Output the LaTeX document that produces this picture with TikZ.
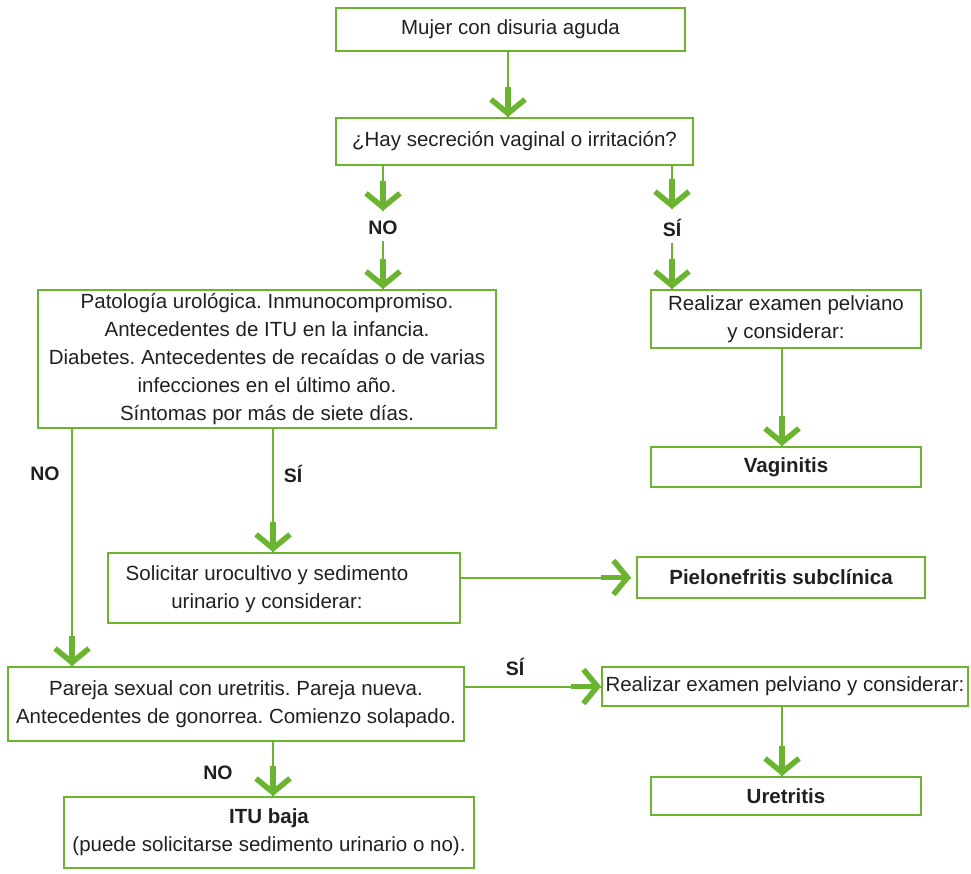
\documentclass[tikz,border=0pt]{standalone}
\usepackage{fontspec}
\setmainfont{Liberation Sans}
\usetikzlibrary{arrows.meta,calc}
\definecolor{gr}{RGB}{106,180,48}
\definecolor{tx}{RGB}{35,31,32}
\newcommand\garr[2]{%
  \draw[ln] #1 -- #2;
  \draw[tipst] ($#2!30pt!#1$) -- #2;}
\begin{document}
\frenchspacing
\begin{tikzpicture}[x=1pt,y=-1pt,
  box/.style={draw=gr,line width=2pt,inner sep=0pt,text=tx,align=center,
    font=\fontsize{20.5}{28}\selectfont},
  txt/.style={inner sep=0pt,text=tx,align=center,font=\fontsize{20.5}{28}\selectfont},
  lab/.style={inner sep=2pt,text=tx,font=\fontsize{19.5}{24}\selectfont\bfseries},
  ln/.style={draw=gr,line width=2pt},
  tipst/.style={draw=gr,line width=5.5pt,-{Straight Barb[length=14pt,width=34pt,line width=5.5pt]}}]
\useasboundingbox (0,0) rectangle (971,874);
\node[box,minimum width=349pt,minimum height=43pt] (b1) at (510.5,29.5) {Mujer con disuria aguda};
\node[box,minimum width=357pt,minimum height=47pt] (b2) at (514.5,141.5) {¿Hay secreción vaginal o irritación?};
\node[box,minimum width=458pt,minimum height=138pt] (b3) at (267,359) {Patología urológica. Inmunocompromiso.\\ Antecedentes de ITU en la infancia.\\ Diabetes. Antecedentes de recaídas o de varias\\ infecciones en el último año.\\ Síntomas por más de siete días.};
\node[box,minimum width=270pt,minimum height=58pt] (r1) at (786,319) {Realizar examen pelviano\\ y considerar:};
\node[box,minimum width=270pt,minimum height=40pt] (vag) at (786,467) {\bfseries Vaginitis};
\node[box,minimum width=352pt,minimum height=70pt] (sol) at (284,588) {};
\node[txt] (solt) at (267,589) {Solicitar urocultivo y sedimento\\ urinario y considerar:};
\node[box,minimum width=288pt,minimum height=41pt] (pie) at (781,577.5) {\bfseries Pielonefritis subclínica};
\node[box,minimum width=456pt,minimum height=74pt] (p) at (236,704) {Pareja sexual con uretritis. Pareja nueva.\\ Antecedentes de gonorrea. Comienzo solapado.};
\node[box,minimum width=366pt,minimum height=39pt] (r2) at (785,686.5) {Realizar examen pelviano y considerar:};
\node[box,minimum width=270pt,minimum height=38pt] (ure) at (786,796) {\bfseries Uretritis};
\node[box,minimum width=410pt,minimum height=71pt] (itu) at (269,832.5) {{\bfseries ITU baja}\\ (puede solicitarse sedimento urinario o no).};
% labels
\node[lab] (no1) at (383,228) {NO};
\node[lab] (si1) at (672,228) {SÍ};
\node[lab] (no2) at (45,474) {NO};
\node[lab] (si2) at (293,474) {SÍ};
\node[lab] (si3) at (515,667) {SÍ};
\node[lab] (no3) at (218,773) {NO};
% helper coordinates
\coordinate (c0) at (508,0);
\coordinate (c1) at (72,0);
\coordinate (c2) at (273,0);
\coordinate (c4) at (782,0);
% connectors
\garr{(b1.south -| c0)}{(b2.north -| c0)}
\garr{(b2.south -| no1)}{([yshift=8pt]no1.north)}
\garr{([yshift=-4pt]no1.south)}{(b3.north -| no1)}
\garr{(b2.south -| si1)}{([yshift=8pt]si1.north)}
\garr{([yshift=-4pt]si1.south)}{(r1.north -| si1)}
\garr{(r1.south -| c4)}{(vag.north -| c4)}
\garr{(b3.south -| c1)}{(p.north -| c1)}
\garr{(b3.south -| c2)}{(sol.north -| c2)}
\garr{(sol.east |- pie.west)}{([xshift=-5pt]pie.west)}
\garr{(p.east |- r2.west)}{(r2.west)}
\garr{(p.south -| c2)}{(itu.north -| c2)}
\garr{(r2.south -| c4)}{(ure.north -| c4)}
\end{tikzpicture}
\end{document}
